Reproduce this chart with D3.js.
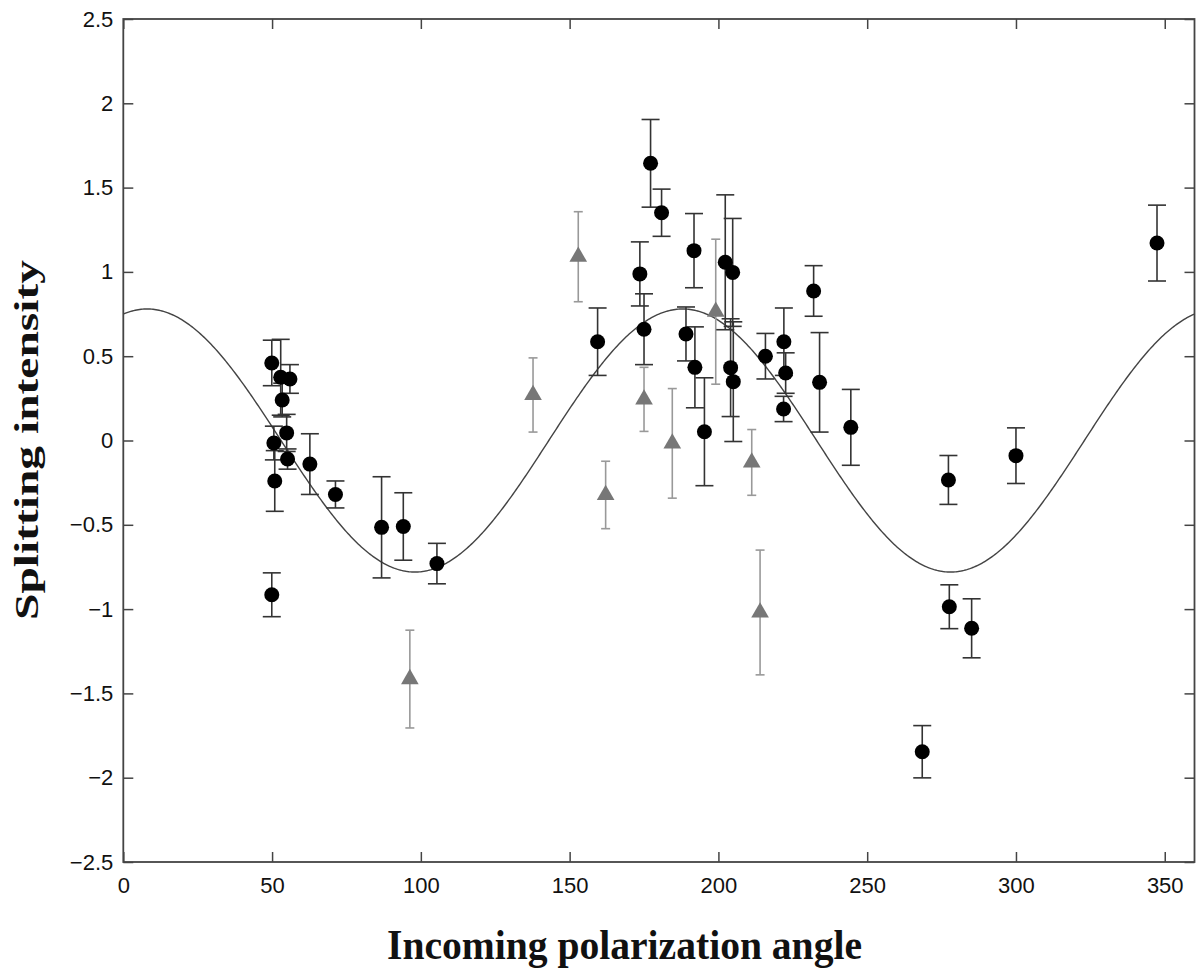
<!DOCTYPE html>
<html>
<head>
<meta charset="utf-8">
<script src="https://d3js.org/d3.v7.min.js"></script>
<style>
  body { margin: 0; background: #fff; }
  .tick text { font-family: "Liberation Sans", Arial, sans-serif; font-size: 22px; fill: #111; }
  .label { font-family: "Liberation Serif", "Times New Roman", serif; font-weight: bold; fill: #111; }
</style>
</head>
<body>
<svg width="1196" height="971"></svg>
<script>
// black circles: angle, splitting intensity, error
var blackX = [49.9, 52.9, 56.0, 53.4, 54.9, 50.6, 55.2, 50.9, 62.7, 71.3, 86.8, 94.1, 49.9, 105.4,
              159.4, 173.6, 175.0, 177.2, 180.9, 189.1, 191.8, 192.1, 195.3, 202.3, 204.8, 204.1, 205.0,
              215.8, 222.0, 222.6, 221.9, 232.0, 234.0, 244.5, 268.5, 277.3, 277.6, 285.1, 300.0, 347.4];
var blackY = [0.46, 0.375, 0.365, 0.24, 0.045, -0.015, -0.11, -0.24, -0.14, -0.32, -0.515, -0.51, -0.915, -0.73,
              0.586, 0.988, 0.66, 1.644, 1.351, 0.632, 1.126, 0.434, 0.052, 1.057, 0.997, 0.432, 0.349,
              0.50, 0.586, 0.40, 0.187, 0.887, 0.345, 0.078, -1.846, -0.234, -0.986, -1.114, -0.09, 1.171];
var blackErr = [0.135, 0.225, 0.085, 0.10, 0.11, 0.10, 0.06, 0.18, 0.18, 0.08, 0.30, 0.20, 0.13, 0.12,
                0.20, 0.19, 0.21, 0.26, 0.14, 0.16, 0.22, 0.24, 0.32, 0.40, 0.32, 0.29, 0.355,
                0.135, 0.20, 0.12, 0.075, 0.15, 0.295, 0.225, 0.155, 0.145, 0.13, 0.175, 0.165, 0.225];

// grey triangles
var greyX = [96.3, 137.7, 152.9, 162.1, 175.0, 184.5, 199.1, 211.2, 214.0];
var greyY = [-1.415, 0.27, 1.09, -0.323, 0.244, -0.017, 0.764, -0.13, -1.02];
var greyErr = [0.29, 0.22, 0.267, 0.20, 0.19, 0.325, 0.43, 0.195, 0.37];

// fitted sine: amp * cos(2 * (angle - phase))
var fitAmp = 0.78;
var fitPhase = 8;

var xTicks = [0, 50, 100, 150, 200, 250, 300, 350];
var yTicks = [-2.5, -2, -1.5, -1, -0.5, 0, 0.5, 1, 1.5, 2, 2.5];

var svg = d3.select('svg');
var plotL = 123.3, plotR = 1194.5, plotT = 19, plotB = 862;

var x = d3.scaleLinear().domain([0, 360]).range([plotL, plotR]);
var y = d3.scaleLinear().domain([-2.5, 2.5]).range([plotB, plotT]);

var axisColor = '#444';
var tickLen = 10;

// axes (box with inward ticks)
svg.append('g')
    .attr('transform', 'translate(0,' + plotB + ')')
    .call(d3.axisBottom(x).tickValues(xTicks).tickSizeInner(-tickLen).tickSizeOuter(0).tickPadding(15))
    .call(g => g.select('.domain').remove());
svg.append('g')
    .attr('transform', 'translate(' + plotL + ',0)')
    .call(d3.axisLeft(y).tickValues(yTicks).tickSizeInner(-tickLen).tickSizeOuter(0).tickPadding(10)
        .tickFormat(d => d3.format('')(d).replace('-', '\u2212')))
    .call(g => g.select('.domain').remove());
svg.append('g')
    .attr('transform', 'translate(0,' + plotT + ')')
    .call(d3.axisTop(x).tickValues(xTicks).tickSizeInner(-tickLen).tickSizeOuter(0).tickFormat(''))
    .call(g => g.select('.domain').remove());
svg.append('g')
    .attr('transform', 'translate(' + plotR + ',0)')
    .call(d3.axisRight(y).tickValues(yTicks).tickSizeInner(-tickLen).tickSizeOuter(0).tickFormat(''))
    .call(g => g.select('.domain').remove());
svg.selectAll('.tick line').attr('stroke', axisColor).attr('stroke-width', 1.5);
svg.append('rect')
    .attr('x', plotL).attr('y', plotT)
    .attr('width', plotR - plotL).attr('height', plotB - plotT)
    .attr('fill', 'none').attr('stroke', axisColor).attr('stroke-width', 1.8);

// fitted curve
var angles = d3.range(0, 360.5, 0.5);
var line = d3.line()
    .x(a => x(a))
    .y(a => y(fitAmp * Math.cos(2 * (a - fitPhase) * Math.PI / 180)));
svg.append('path')
    .datum(angles)
    .attr('d', line)
    .attr('fill', 'none')
    .attr('stroke', '#444')
    .attr('stroke-width', 1.4);

function errorBars(xs, ys, es, color, cap, width) {
    var g = svg.append('g').attr('stroke', color).attr('stroke-width', width);
    var sel = g.selectAll('g').data(xs.map((v, i) => ({ x: v, y: ys[i], e: es[i] })))
        .enter().append('g');
    sel.append('line')
        .attr('x1', d => x(d.x)).attr('x2', d => x(d.x))
        .attr('y1', d => y(d.y + d.e)).attr('y2', d => y(d.y - d.e));
    sel.append('line')
        .attr('x1', d => x(d.x) - cap).attr('x2', d => x(d.x) + cap)
        .attr('y1', d => y(d.y + d.e)).attr('y2', d => y(d.y + d.e));
    sel.append('line')
        .attr('x1', d => x(d.x) - cap).attr('x2', d => x(d.x) + cap)
        .attr('y1', d => y(d.y - d.e)).attr('y2', d => y(d.y - d.e));
}

errorBars(greyX, greyY, greyErr, '#999', 4.5, 1.6);
errorBars(blackX, blackY, blackErr, '#333', 9, 1.6);

// grey triangles
svg.append('g').selectAll('path')
    .data(greyX.map((v, i) => [v, greyY[i]]))
    .enter().append('path')
    .attr('d', d3.symbol().type(d3.symbolTriangle).size(135))
    .attr('transform', d => 'translate(' + x(d[0]) + ',' + y(d[1]) + ')')
    .attr('fill', '#777');

// black circles
svg.append('g').selectAll('circle')
    .data(blackX.map((v, i) => [v, blackY[i]]))
    .enter().append('circle')
    .attr('cx', d => x(d[0]))
    .attr('cy', d => y(d[1]))
    .attr('r', 7.5)
    .attr('fill', '#000');

// axis labels
svg.append('text')
    .attr('class', 'label')
    .attr('x', 387).attr('y', 959)
    .attr('textLength', 475)
    .attr('lengthAdjust', 'spacingAndGlyphs')
    .style('font-size', '43px')
    .text('Incoming polarization angle');
svg.append('text')
    .attr('class', 'label')
    .attr('transform', 'translate(38,620) rotate(-90)')
    .attr('textLength', 360)
    .attr('lengthAdjust', 'spacingAndGlyphs')
    .style('font-size', '33px')
    .text('Splitting intensity');
</script>
</body>
</html>
